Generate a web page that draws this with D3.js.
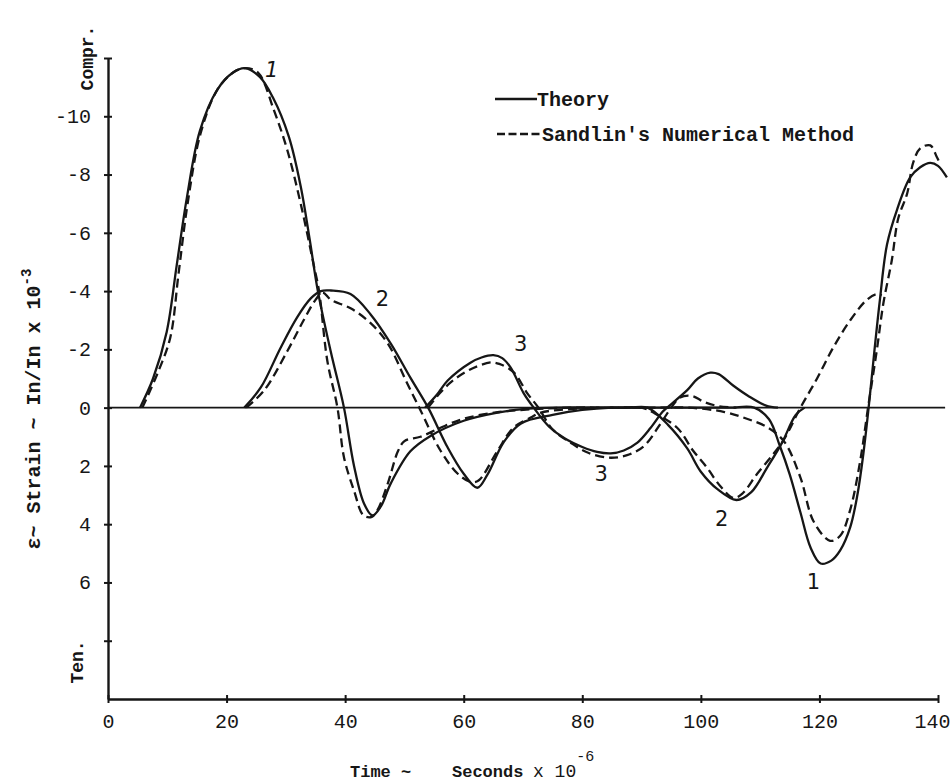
<!DOCTYPE html>
<html>
<head>
<meta charset="utf-8">
<script src="https://cdn.jsdelivr.net/npm/d3@7"></script>
<style>
  body { margin: 0; background: #fff; }
</style>
</head>
<body>
<div id="chart"></div>
<script>
// strain records, [time (sec x 10^-6), strain (in/in x 10^-3)], compression negative
let theory1 = [[5.4,0],[7.6,-1.0],[9.9,-2.6],[11.6,-4.9],[13.3,-7.2],[15.5,-9.5],[18.4,-10.9],[21.1,-11.5],[23.1,-11.65],[25.6,-11.35],[27.8,-10.65],[30.5,-9.3],[32.5,-7.6],[34,-5.8],[35.4,-4.0],[37.6,-1.9],[39.8,0],[41.5,2.0],[43.2,3.3],[44.6,3.7],[46,3.4],[47.7,2.6],[51,1.5],[54.4,0.97],[60,0.45],[65.7,0.17],[70,0.05],[76,0],[84,0],[92,0],[100,0],[105,0],[109,0],[111.5,0.4],[113.3,1.3],[115,2.3],[116.8,3.6],[118.5,4.8],[120.2,5.35],[122,5.25],[123.5,4.9],[125.2,4.1],[126.4,3.0],[127.4,1.6],[128.3,0],[129.3,-2.0],[130.2,-3.7],[131.4,-5.6],[133.1,-6.8],[135.3,-7.9],[137,-8.25],[138.7,-8.4],[140,-8.3],[141.5,-7.9]];
let theory2 = [[23,0],[25.8,-0.7],[29.1,-2.05],[31.9,-3.1],[34.2,-3.75],[35.9,-4.0],[37.6,-4.02],[40.9,-3.9],[44.3,-3.2],[47.7,-2.2],[51,-1.03],[54,0],[57.3,1.37],[60,2.27],[62.3,2.75],[64,2.3],[66.7,1.2],[69.6,0.55],[75,0.25],[80,0.08],[85,0],[88,0],[91,0],[94.5,0.6],[97.7,1.4],[100,2.2],[102.8,2.8],[106,3.17],[108.5,2.9],[111.2,2.05],[113.7,1.2],[116,0.25],[117.5,0]];
let theory3 = [[53.5,0],[55.5,-0.45],[57.3,-0.93],[61.2,-1.55],[63,-1.72],[65,-1.8],[66.5,-1.7],[67.9,-1.38],[70.1,-0.5],[71.8,0],[74.4,0.65],[77,1.05],[80,1.35],[82.5,1.52],[84.8,1.57],[87,1.47],[89.3,1.2],[91.5,0.7],[93.5,0.15],[94.3,0],[97.7,-0.6],[99.5,-1.0],[101.6,-1.2],[103,-1.15],[105.5,-0.75],[108,-0.4],[111,-0.07],[113,0]];

let numerical1 = [[5.8,0],[8.4,-1.2],[10.5,-2.4],[11.9,-4.6],[13.5,-7.1],[15.6,-9.4],[18.4,-10.9],[21.1,-11.5],[23.1,-11.65],[25.3,-11.5],[28,-10.2],[30.3,-8.8],[32.5,-7.0],[34.7,-4.9],[35.6,-4.0],[37,-1.6],[38.7,0],[39.8,1.7],[41.5,2.85],[43.1,3.7],[44.5,3.75],[45.5,3.5],[47.2,2.6],[48.9,1.5],[50,1.15],[52.7,1.0],[56,0.7],[60,0.38],[66,0.15],[72,0.05],[78,0],[86,0],[93,0],[98,0],[104,0.15],[108,0.4],[111,0.65],[114,1.15],[116.8,2.4],[119,3.9],[121.8,4.57],[123.5,4.4],[125.2,3.5],[126.9,1.8],[128.2,0],[129.7,-2.0],[130.8,-3.6],[132.2,-5.05],[133.3,-6.5],[134.8,-7.35],[135.8,-8.4],[137,-8.9],[138.7,-9.0],[139.8,-8.6],[140.3,-8.4]];
let numerical2 = [[23.3,0],[26.3,-0.58],[30.3,-1.96],[33,-3.0],[35,-3.7],[36.2,-3.95],[37.6,-3.7],[41,-3.4],[44.3,-2.9],[47.2,-2.2],[50.5,-0.82],[52.5,0],[56.1,1.48],[59,2.27],[61.2,2.55],[62.5,2.5],[65.7,1.48],[68.4,0.69],[71.3,0.34],[73,0.17],[78,0.05],[82,0],[86,0],[90,0],[92,0.17],[96,0.69],[98.7,1.48],[101,2.05],[103.3,2.7],[105.5,3.1],[107,2.95],[109.5,2.27],[112.2,1.6],[114,1.1],[116.8,0],[119.6,-1.0],[122.3,-2.05],[125.2,-3.0],[128,-3.7],[129.7,-3.9],[130.5,-3.85]];
let numerical3 = [[54,0],[56,-0.5],[58,-0.9],[61,-1.3],[64.5,-1.55],[66,-1.5],[68.5,-1.2],[70.7,-0.5],[72.6,0],[75,0.75],[78,1.2],[81,1.55],[84.8,1.72],[88,1.6],[90.5,1.3],[93.2,0.55],[95,0],[96.5,-0.35],[98.5,-0.4],[100.5,-0.2],[103,-0.05],[106,0]];

let xTickValues = [0, 20, 40, 60, 80, 100, 120, 140];
let yTickValues = [-12, -10, -8, -6, -4, -2, 0, 2, 4, 6, 8];
let yTickLabels = ["", "-10", "-8", "-6", "-4", "-2", "0", "2", "4", "6", ""];

// gauge numbers written beside the curves: [text, time, strain]
let curveLabels = [["1", 27.6, -11.6], ["2", 46.3, -3.75], ["3", 69.6, -2.2], ["3", 83.2, 2.25], ["2", 103.5, 3.8], ["1", 119, 5.95]];

function drawChart() {

    let plotWidth = 951;
    let plotHeight = 784;
    let ink = "#161616";
    let typeFont = "'Liberation Mono', 'DejaVu Sans Mono', monospace";

    let svg = d3.select("#chart")
        .append("svg")
        .attr("width", plotWidth)
        .attr("height", plotHeight)
        .style("background", "#fff");

    // scales
    let xScale = d3.scaleLinear()
        .domain([0, 140])
        .range([108, 938]);

    let yScale = d3.scaleLinear()
        .domain([-12, 10])
        .range([58, 699]);

    // axes
    let xAxis = d3.axisBottom(xScale)
        .tickValues(xTickValues)
        .tickSizeInner(4)
        .tickSizeOuter(0)
        .tickPadding(11)
        .tickFormat(d => String(d));

    let yAxis = d3.axisLeft(yScale)
        .tickValues(yTickValues)
        .tickSizeInner(4)
        .tickSizeOuter(0)
        .tickPadding(13)
        .tickFormat((d, i) => yTickLabels[i]);

    let gx = svg.append("g")
        .attr("transform", `translate(0, ${yScale(10)})`)
        .call(xAxis);

    let gy = svg.append("g")
        .attr("transform", `translate(${xScale(0)}, 0)`)
        .call(yAxis);

    [gx, gy].forEach(g => {
        g.select(".domain").attr("stroke", ink).attr("stroke-width", 2.4);
        g.selectAll(".tick line").attr("stroke", ink).attr("stroke-width", 2);
        g.selectAll(".tick text")
            .attr("fill", ink)
            .attr("font-family", typeFont)
            .attr("font-size", 20);
    });
    // ticks cross the axis lines
    gx.selectAll(".tick line").attr("y1", -4);
    gy.selectAll(".tick line").attr("x1", 4);
    // last label sits against the page edge
    gx.selectAll(".tick text").filter(d => d === 140).attr("dx", -6);

    // zero line
    svg.append("line")
        .attr("x1", xScale(0))
        .attr("x2", xScale(141.2))
        .attr("y1", yScale(0))
        .attr("y2", yScale(0))
        .attr("stroke", ink)
        .attr("stroke-width", 1.8);

    // curves
    let line = d3.line()
        .x(d => xScale(d[0]))
        .y(d => yScale(d[1]))
        .curve(d3.curveCatmullRom.alpha(0.5));

    [numerical1, numerical2, numerical3].forEach(series => {
        svg.append("path")
            .attr("d", line(series))
            .attr("fill", "none")
            .attr("stroke", ink)
            .attr("stroke-width", 2.3)
            .attr("stroke-dasharray", "9,5");
    });

    [theory1, theory2, theory3].forEach(series => {
        svg.append("path")
            .attr("d", line(series))
            .attr("fill", "none")
            .attr("stroke", ink)
            .attr("stroke-width", 2.3);
    });

    svg.selectAll(".curve-label")
        .data(curveLabels)
        .enter()
        .append("text")
        .attr("class", "curve-label")
        .attr("x", d => xScale(d[1]))
        .attr("y", d => yScale(d[2]))
        .attr("dy", "0.36em")
        .attr("text-anchor", "middle")
        .attr("font-family", "'DejaVu Sans', sans-serif")
        .attr("font-style", (d, i) => i === 0 ? "italic" : "normal")
        .attr("font-size", 21)
        .attr("fill", ink)
        .text(d => d[0]);

    // legend
    svg.append("line")
        .attr("x1", 495).attr("x2", 537)
        .attr("y1", 99).attr("y2", 99)
        .attr("stroke", ink).attr("stroke-width", 2.3);
    svg.append("text")
        .attr("x", 537).attr("y", 106)
        .attr("font-family", typeFont).attr("font-weight", "bold").attr("font-size", 20)
        .attr("fill", ink)
        .text("Theory");

    svg.append("line")
        .attr("x1", 497).attr("x2", 541)
        .attr("y1", 134).attr("y2", 134)
        .attr("stroke", ink).attr("stroke-width", 2.3)
        .attr("stroke-dasharray", "8,3.5");
    svg.append("text")
        .attr("x", 542).attr("y", 141)
        .attr("font-family", typeFont).attr("font-weight", "bold").attr("font-size", 20)
        .attr("fill", ink)
        .text("Sandlin's Numerical Method");

    // axis titles
    let yTitle = svg.append("text")
        .attr("transform", "translate(40, 409) rotate(-90)")
        .attr("text-anchor", "middle")
        .attr("font-family", typeFont).attr("font-weight", "bold").attr("font-size", 20)
        .attr("fill", ink);
    yTitle.append("tspan").text("\u03B5~ Strain ~ In/In x 10");
    yTitle.append("tspan").attr("dy", -9).attr("font-size", 14).text("-3");

    svg.append("text")
        .attr("transform", "translate(93, 58) rotate(-90)")
        .attr("text-anchor", "middle")
        .attr("font-family", typeFont).attr("font-weight", "bold").attr("font-size", 18)
        .attr("fill", ink)
        .text("Compr.");

    svg.append("text")
        .attr("transform", "translate(83, 662) rotate(-90)")
        .attr("text-anchor", "middle")
        .attr("font-family", typeFont).attr("font-weight", "bold").attr("font-size", 18)
        .attr("fill", ink)
        .text("Ten.");

    let titleY = 777;
    svg.append("text")
        .attr("x", 350).attr("y", titleY)
        .attr("font-family", typeFont).attr("font-weight", "bold").attr("font-size", 17)
        .attr("fill", ink)
        .text("Time ~");
    svg.append("text")
        .attr("x", 452).attr("y", titleY)
        .attr("font-family", typeFont).attr("font-weight", "bold").attr("font-size", 17)
        .attr("fill", ink)
        .text("Seconds");
    let xUnit = svg.append("text")
        .attr("x", 533).attr("y", titleY)
        .attr("font-family", typeFont).attr("font-size", 18)
        .attr("fill", ink);
    xUnit.append("tspan").text("x 10");
    xUnit.append("tspan").attr("dy", -16).attr("font-size", 15).text("-6");
}

drawChart();
</script>
</body>
</html>
